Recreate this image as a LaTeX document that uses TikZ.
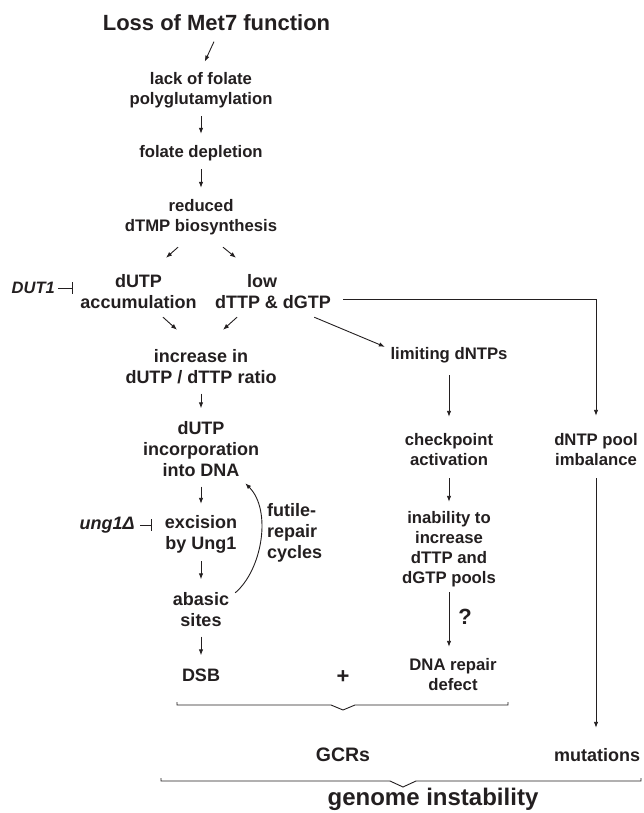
\documentclass[tikz,border=0pt]{standalone}
\usepackage{fontspec}
\setmainfont{Liberation Sans}
\usetikzlibrary{arrows.meta}
\usetikzlibrary{calc}
\definecolor{figTexto}{RGB}{35,31,32}
\tikzset{
  paso/.style={
    font=\bfseries\fontsize{16.7}{20}\selectfont, text=figTexto,
    align=center, inner sep=0pt
  },
  pasog/.style={paso, font=\bfseries\fontsize{18}{21}\selectfont},
  gen/.style={
    font=\bfseries\itshape\fontsize{16.5}{20}\selectfont, text=figTexto,
    inner sep=0pt
  },
  flecha/.style={-{Latex[length=6pt,width=4.5pt]}, line width=0.9pt, draw=figTexto},
  corta/.style={flecha, shorten <=6pt, shorten >=9pt},
  inhibe/.style={-{Bar[width=12pt]}, line width=0.9pt, draw=figTexto},
  llave/.style={line width=0.9pt, draw=figTexto}
}
\begin{document}
\begin{tikzpicture}[x=1pt, y=-1pt]
  \useasboundingbox (0,0) rectangle (644,813);
  % columna principal
  \node[paso, font=\bfseries\fontsize{22}{26}\selectfont, minimum height=26pt] (met7) at (216.5,23) {Loss of Met7 function};
  \node[paso, minimum height=40pt] (poliglu) at (201,90) {lack of folate\\polyglutamylation};
  \node[paso, minimum height=20pt] (agota) at (201,153) {folate depletion};
  \node[paso, minimum height=40pt] (dtmp) at (201,217) {reduced\\dTMP biosynthesis};
  \node[pasog, minimum height=42pt] (dutp) at (138.5,292) {dUTP\\accumulation};
  \node[pasog, minimum height=42pt] (bajo) at (273,292) {low\kern22pt\\dTTP \& dGTP};
  \node[pasog, minimum height=42pt] (ratio) at (201,366.5) {increase in\\dUTP / dTTP ratio};
  \node[pasog, minimum height=63pt] (incorp) at (201,449) {dUTP\\incorporation\\into DNA};
  \node[pasog, minimum height=42pt] (escis) at (201,534) {excision\\by Ung1};
  \node[pasog, minimum height=42pt] (abas) at (201,609.5) {abasic\\sites};
  \node[pasog, minimum height=21pt] (dsb) at (201,675) {DSB};
  \node[gen, anchor=east] (dut1) at (55,288) {DUT1};
  \node[gen, font=\bfseries\itshape\fontsize{18}{21}\selectfont, anchor=east] (ung1) at (135,525) {ung1Δ};
  \node[pasog, align=left, anchor=west] (futil) at (267,533) {futile-\\repair\\cycles};

  % columna derecha
  \node[paso, minimum height=20pt] (lim) at (449,355) {limiting dNTPs};
  \node[paso, minimum height=40pt] (check) at (449,449.5) {checkpoint\\activation};
  \node[paso, minimum height=80pt] (inab) at (449,549.5) {inability to\\increase\\dTTP and\\dGTP pools};
  \node[paso, minimum height=40pt] (rep) at (453,675) {DNA repair\\defect};
  \node[paso, font=\bfseries\fontsize{22}{26}\selectfont] (duda) at (465,617) {?};
  \node[paso, minimum height=40pt] (pool) at (596,449.5) {dNTP pool\\imbalance};

  % resultados
  \node[paso, font=\bfseries\fontsize{22}{26}\selectfont] (mas) at (343,677) {+};
  \node[paso, font=\bfseries\fontsize{19.5}{23}\selectfont] (gcr) at (343,755) {GCRs};
  \node[pasog, minimum height=21pt] (mut) at (597,755) {mutations};
  \node[paso, font=\bfseries\fontsize{24}{28}\selectfont] (genoma) at (433,799) {genome instability};

  % flechas
  \draw[corta] (met7.south) -- (poliglu.north);
  \draw[corta] (poliglu.south) -- (agota.north);
  \draw[corta] (agota.south) -- (dtmp.north);
  \draw[flecha] ([shift={(-23,10)}]dtmp.south) -- ([shift={(27.5,-13)}]dutp.north);
  \draw[flecha] ([shift={(22,10)}]dtmp.south) -- ([shift={(-37,-13)}]bajo.north);
  \draw[flecha] ([shift={(24.5,4)}]dutp.south) -- ([shift={(-24,-15.5)}]ratio.north);
  \draw[flecha] ([shift={(-36,4)}]bajo.south) -- ([shift={(22,-15.5)}]ratio.north);
  \draw[corta] (ratio.south) -- (incorp.north);
  \draw[corta] (incorp.south) -- (escis.north);
  \draw[corta] (escis.south) -- (abas.north);
  \draw[corta] (abas.south) -- (dsb.north);
  \draw[inhibe, shorten <=3pt, shorten >=7.5pt] (dut1.east) -- (dut1.east -| dutp.west);
  \draw[inhibe, shorten <=5pt, shorten >=13pt] (ung1.east) -- (ung1.east -| escis.west);
  \draw[flecha] ([shift={(6,4.5)}]abas.north east) .. controls +(27,-23) and +(27,27) .. ([shift={(-14,2.5)}]incorp.south east);

  \draw[flecha] ([shift={(-17,4)}]bajo.south east) -- ([shift={(-5.5,2)}]lim.north west);
  \draw[flecha, shorten >=13.5pt] ([shift={(12,7)}]bajo.east) -| (pool.north);
  \draw[flecha, shorten <=10pt, shorten >=12.5pt] (lim.south) -- (check.north);
  \draw[flecha, shorten <=8.5pt, shorten >=7.5pt] (check.south) -- (inab.north);
  \draw[flecha, shorten <=2.5pt, shorten >=8pt] (inab.south) -- (inab.south |- rep.north);
  \draw[flecha, shorten <=8.5pt, shorten >=16.5pt] (pool.south) -- (pool.south |- mut.north);

  % llaves
  \draw[llave] (177,702) -- (177,705) -- (331,705) -- (343,710) -- (355,705) -- (508,705) -- (508,702);
  \draw[llave] (161,778) -- (161,781) -- (390,781) -- (403,787) -- (416,781) -- (641,781) -- (641,778);
\end{tikzpicture}
\end{document}
